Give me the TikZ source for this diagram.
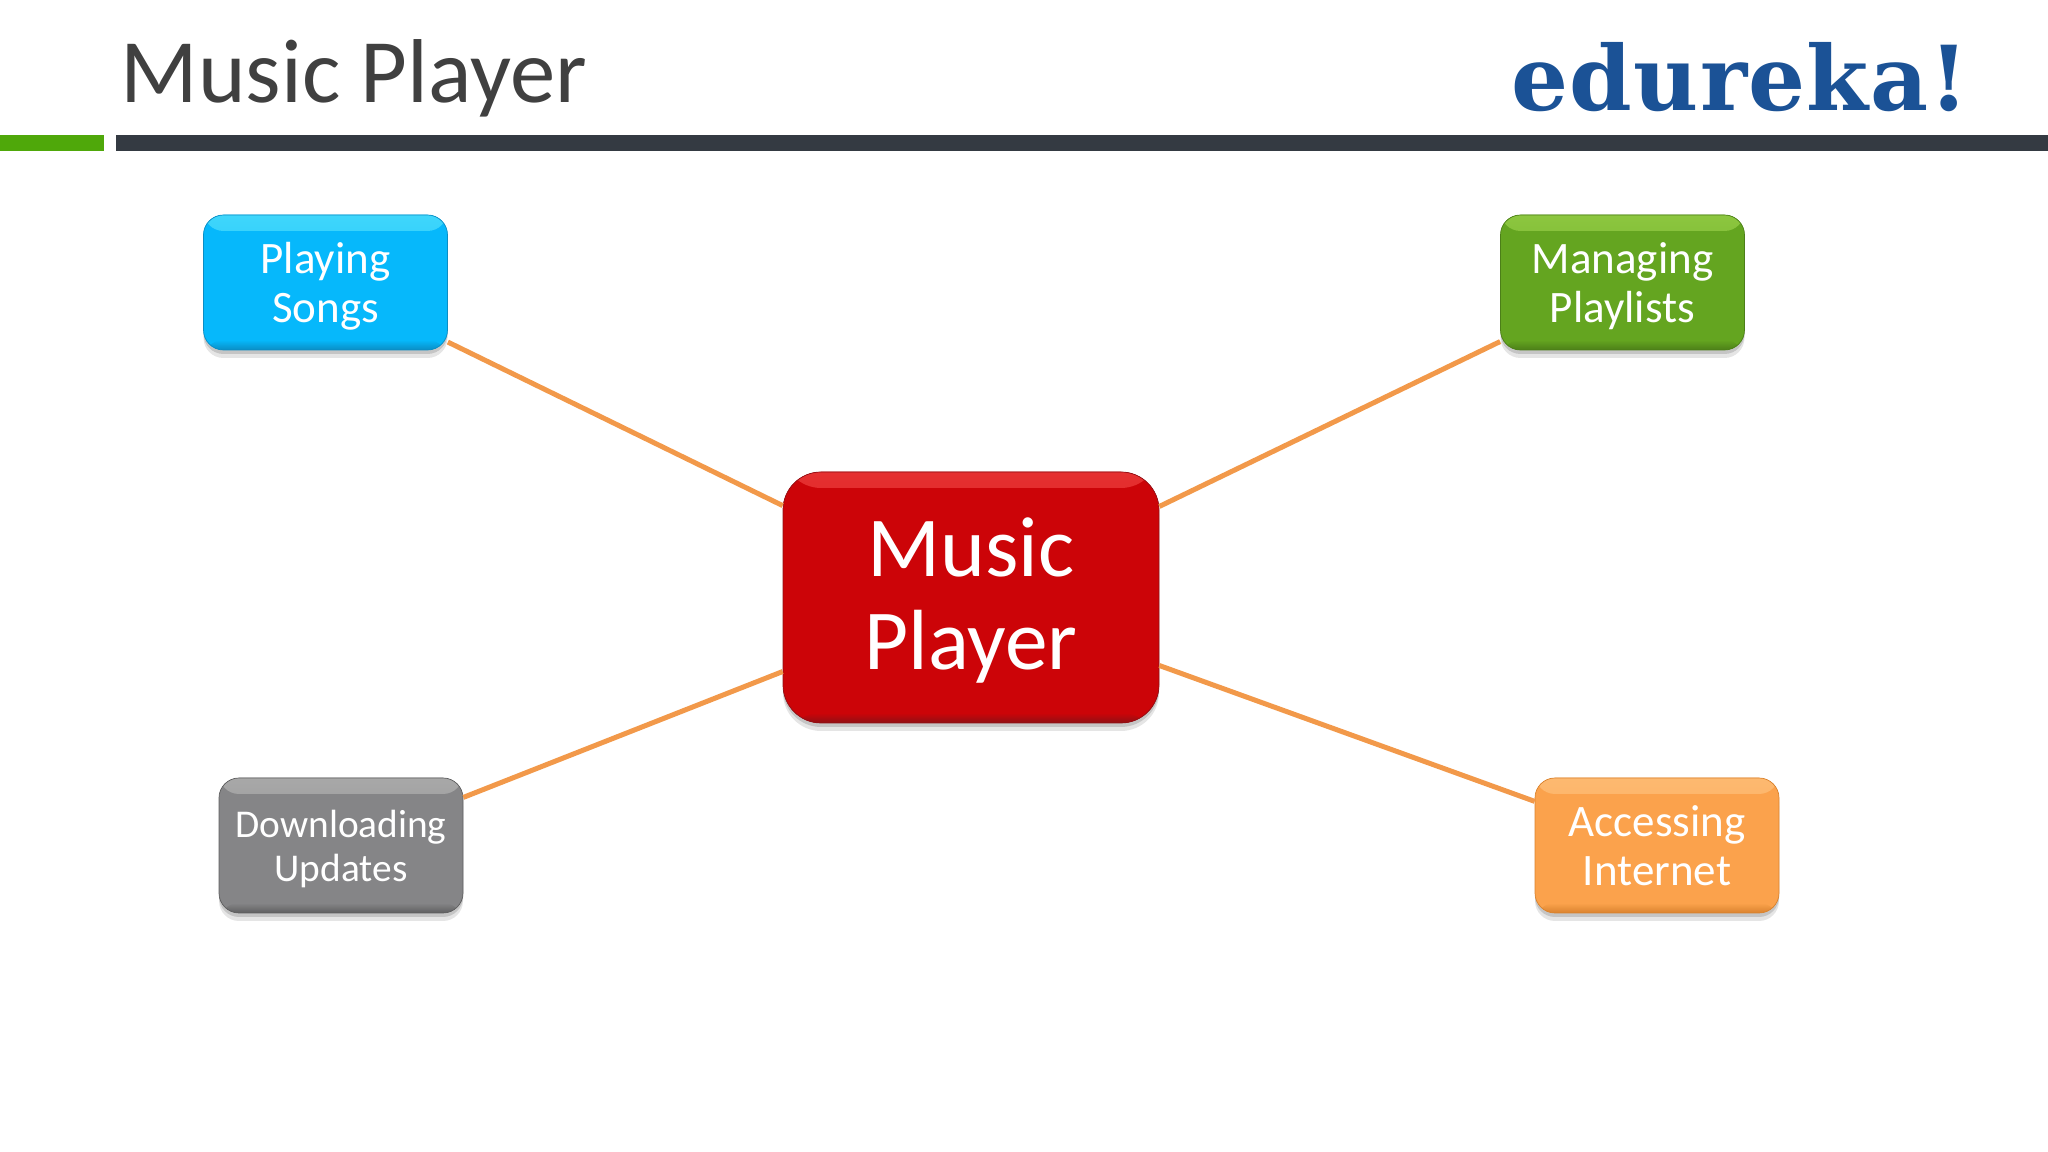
\documentclass[tikz,border=0pt]{standalone}
\usepackage{fontspec}
\setmainfont{Carlito}
\newfontfamily\logofont[LetterSpace=1.5]{DejaVu Serif}
\usetikzlibrary{shadows}
\definecolor{titlegray}{HTML}{404040}
\definecolor{logoblue}{HTML}{1B5296}
\definecolor{bargreen}{HTML}{4FA80A}
\definecolor{bardark}{HTML}{343A42}
\definecolor{linkorange}{HTML}{F2994A}
\definecolor{redbase}{HTML}{CC0408}
\definecolor{redlight}{HTML}{E53030}
\definecolor{reddark}{HTML}{8F1015}
\definecolor{cyanbase}{HTML}{06B8FB}
\definecolor{cyanlight}{HTML}{3FD6FB}
\definecolor{cyandark}{HTML}{0A8DC4}
\definecolor{greenbase}{HTML}{64A520}
\definecolor{greenlight}{HTML}{8CC63F}
\definecolor{greendark}{HTML}{4C7F18}
\definecolor{graybase}{HTML}{858587}
\definecolor{graylight}{HTML}{A8A8A8}
\definecolor{graydark}{HTML}{5F5F60}
\definecolor{orangebase}{HTML}{FBA24C}
\definecolor{orangelight}{HTML}{FDB970}
\definecolor{orangedark}{HTML}{D9832F}
\tikzset{
		topic/.style={
		rectangle,rounded corners=.2cm,minimum width=2.44cm,minimum height=1.35cm,
		inner sep=0pt,align=center,text=white,fill=#1base,draw=#1dark,line width=.2pt,
		text depth=0pt,font=\fontsize{12.8}{13.9}\selectfont,
		drop shadow={shadow xshift=0cm,shadow yshift=-.04cm,opacity=.14,fill=black},
		drop shadow={shadow xshift=0cm,shadow yshift=-.08cm,opacity=.1,fill=black},
		path picture={
			\fill[top color=#1light,bottom color=#1base] (path picture bounding box.north west) rectangle ([yshift=-.16cm]path picture bounding box.north east);
			\fill[top color=#1base,bottom color=#1dark] ([yshift=.1cm]path picture bounding box.south west) rectangle (path picture bounding box.south east);
		}
		},
		link/.style={draw=linkorange,line width=.05cm},
		}
\begin{document}
\begin{tikzpicture}[auto,node distance=1.5cm]
	\useasboundingbox (0,0) rectangle (20.48,11.52);
	%HEADER
	\node[anchor=base west,inner sep=0pt,text=titlegray,font=\fontsize{25.8}{28}\selectfont](title) at (1.2,10.49){Music Player};
	\node[anchor=base east,inner sep=0pt,text=logoblue,font=\fontsize{25.5}{30}\logofont\bfseries](logo) at (19.70,10.41){edureka!};
	\fill[bargreen] (0,10.01) rectangle (1.04,10.17);
	\fill[bardark] (1.16,10.01) rectangle (20.48,10.17);
	%NODES for center and topics
	\node[topic=red,minimum width=3.76cm,minimum height=2.51cm,rounded corners=.38cm,text depth=2.3pt,font=\fontsize{24.3}{26.5}\selectfont](music) at (9.71,5.545){Music\\Player};
	\node[topic=cyan](playing)[left of = music, xshift=-4.955cm, yshift=3.15cm]{Playing\\Songs};
	\node[topic=green](managing)[right of = music, xshift=5.015cm, yshift=3.15cm]{Managing\\Playlists};
	\node[topic=gray,font=\fontsize{11.2}{12.5}\selectfont](downloading)[left of = music, xshift=-4.8cm, yshift=-2.48cm]{Downloading\\Updates};
	\node[topic=orange](accessing)[right of = music, xshift=5.36cm, yshift=-2.48cm]{Accessing\\Internet};
	%PATHS
	\foreach \topicname in {playing,managing,downloading,accessing}
		\draw[link] (music) -- (\topicname);
\end{tikzpicture}
\end{document}
